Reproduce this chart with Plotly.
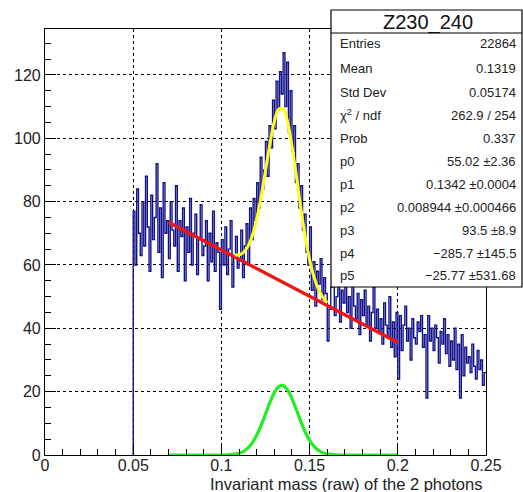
import numpy as np
import plotly.graph_objects as go

# ---------------- data ----------------
bin_start = 0.05
bin_width = 0.001
counts = [
    77, 60, 84, 70, 63, 80, 66, 88, 72, 58,
    82, 68, 75, 92, 64, 78, 56, 86, 70, 74,
    62, 80, 71, 66, 85, 58, 74, 69, 78, 55,
    72, 64, 81, 60, 70, 76, 57, 68, 79, 63,
    66, 74, 55, 70, 61, 77, 58, 67, 64, 46,
    68, 60, 72, 57, 65, 74, 53, 63, 69, 59,
    62, 71, 56, 66, 73, 60, 78, 68, 81, 74,
    86, 78, 94, 84, 90, 99, 88, 104, 97, 112,
    103, 118, 109, 121, 114, 127, 110, 124, 102, 115,
    96, 104, 86, 92, 78, 85, 71, 76, 64, 60,
    72, 52, 61, 47, 58, 54, 62, 49, 56, 51,
    36, 46, 53, 59, 44, 50, 55, 42, 52, 48,
    54, 45, 50, 40, 56, 47, 43, 51, 38, 49,
    44, 52, 41, 47, 36, 45, 53, 40, 46, 39,
    43, 35, 48, 41, 37, 50, 34, 42, 31, 45,
    24, 44, 33, 41, 47, 36, 40, 30, 43, 37,
    35, 42, 39, 44, 34, 38, 18, 44, 36, 40,
    33, 41, 37, 29, 39, 35, 43, 32, 38, 28,
    36, 30, 40, 27, 35, 18, 38, 25, 34, 29,
    31, 26, 35, 28, 24, 33, 27, 30, 22, 26,
]

red_x = [0.07, 0.20]
red_y = [73.5, 35.5]

yellow_x = [0.1075, 0.110, 0.1125, 0.115, 0.1175, 0.120, 0.1225, 0.125, 0.1275,
            0.130, 0.1325, 0.135, 0.1375, 0.140, 0.1425, 0.145, 0.1475, 0.150,
            0.1525, 0.155, 0.1575, 0.160]
yellow_y = [63.2, 63.2, 64.0, 65.8, 69.2, 74.5, 81.5, 89.8, 98.2,
            105.3, 109.2, 109.3, 105.2, 97.6, 88.1, 78.1, 69.0, 61.7,
            56.2, 52.3, 49.8, 48.1]

green_x = [0.07, 0.10, 0.105, 0.1075, 0.110, 0.1125, 0.115, 0.1175, 0.120, 0.1225,
           0.125, 0.1275, 0.130, 0.1325, 0.135, 0.1375, 0.140, 0.1425, 0.145,
           0.1475, 0.150, 0.1525, 0.155, 0.1575, 0.160, 0.165, 0.170, 0.20]
green_y = [0.0, 0.0, 0.1, 0.26, 0.56, 1.16, 2.19, 3.84, 6.23, 9.34,
           12.96, 16.6, 19.7, 21.6, 21.9, 20.5, 17.8, 14.3, 10.6,
           7.27, 4.62, 2.71, 1.47, 0.74, 0.34, 0.05, 0.0, 0.0]

stats_title = "Z230_240"
stats_labels = ["Entries", "Mean", "Std Dev", "χ<sup>2</sup> / ndf", "Prob",
                "p0", "p1", "p2", "p3", "p4", "p5"]
stats_values = ["22864", "0.1319", "0.05174", "262.9 / 254", "0.337",
                "55.02 ±2.36", "0.1342 ±0.0004", "0.008944 ±0.000466",
                "93.5 ±8.9", "−285.7 ±145.5", "−25.77 ±531.68"]

x_title = "Invariant mass (raw) of the 2 photons"

# ---------------- figure ----------------
W, H = 523, 492
L, R, T, B = 45, 37, 29, 37
PW, PH = W - L - R, H - T - B


def px(x):
    return (x - L) / PW


def py(y):
    return (H - B - y) / PH


edges = bin_start + bin_width * np.arange(len(counts) + 1)
hx = np.concatenate([[edges[0]], edges])
hy = np.concatenate([[0], counts, [counts[-1]]])

fig = go.Figure()
fig.add_trace(go.Scatter(x=hx, y=hy, mode="lines", line=dict(color="#11118a", width=1.4, shape="hv"),
                         hoverinfo="skip"))
fig.add_trace(go.Scatter(x=red_x, y=red_y, mode="lines", line=dict(color="#ee1515", width=3.4)))
fig.add_trace(go.Scatter(x=yellow_x, y=yellow_y, mode="lines",
                         line=dict(color="#ffff1a", width=3, shape="spline")))
fig.add_trace(go.Scatter(x=green_x, y=green_y, mode="lines",
                         line=dict(color="#22ee22", width=3.2, shape="spline")))

font_family = "Liberation Sans, Arial, sans-serif"
axis_common = dict(
    showline=True, linecolor="black", linewidth=1.2, mirror=True,
    ticks="inside", tickcolor="black", tickwidth=1.2, ticklen=11,
    showgrid=True, gridcolor="black", gridwidth=1, griddash="dot",
    zeroline=False, tickfont=dict(family=font_family, size=16, color="#222"),
)
fig.update_xaxes(range=[0, 0.25], dtick=0.05, tick0=0, ticklabelstandoff=-4,
                 minor=dict(ticks="inside", dtick=0.01, ticklen=6, tickcolor="black", showgrid=False),
                 **axis_common)
fig.update_yaxes(range=[0, 134.5], dtick=20, tick0=0,
                 minor=dict(ticks="inside", dtick=5, ticklen=6, tickcolor="black", showgrid=False),
                 **axis_common)

shapes = [
    dict(type="rect", xref="paper", yref="paper", x0=px(331), x1=px(522), y0=py(287), y1=py(10),
         fillcolor="white", line=dict(color="black", width=1.2), layer="above"),
    dict(type="line", xref="paper", yref="paper", x0=px(331), x1=px(522), y0=py(33), y1=py(33),
         line=dict(color="black", width=1.2), layer="above"),
]

annotations = [
    dict(text=stats_title, xref="paper", yref="paper", x=px(428), y=py(22), xanchor="center",
         yanchor="middle", showarrow=False, font=dict(family=font_family, size=20, color="#111")),
    dict(text=x_title, xref="paper", yref="paper", x=px(484), y=py(484), xanchor="right",
         yanchor="middle", showarrow=False, font=dict(family=font_family, size=16.5, color="#222")),
]
row_y = [44, 68, 92, 115, 138, 161, 184, 207, 230, 253, 275]
for lab, val, yy in zip(stats_labels, stats_values, row_y):
    annotations.append(dict(text=lab, xref="paper", yref="paper", x=px(338), y=py(yy),
                            xanchor="left", yanchor="middle", showarrow=False,
                            font=dict(family=font_family, size=13, color="#222")))
    annotations.append(dict(text=val, xref="paper", yref="paper", x=px(518), y=py(yy),
                            xanchor="right", yanchor="middle", showarrow=False,
                            font=dict(family=font_family, size=13, color="#222")))

fig.update_layout(
    width=W, height=H, margin=dict(l=L, r=R, t=T, b=B, pad=0),
    paper_bgcolor="white", plot_bgcolor="white", showlegend=False,
    shapes=shapes, annotations=annotations,
)

fig.write_html("out.html")
